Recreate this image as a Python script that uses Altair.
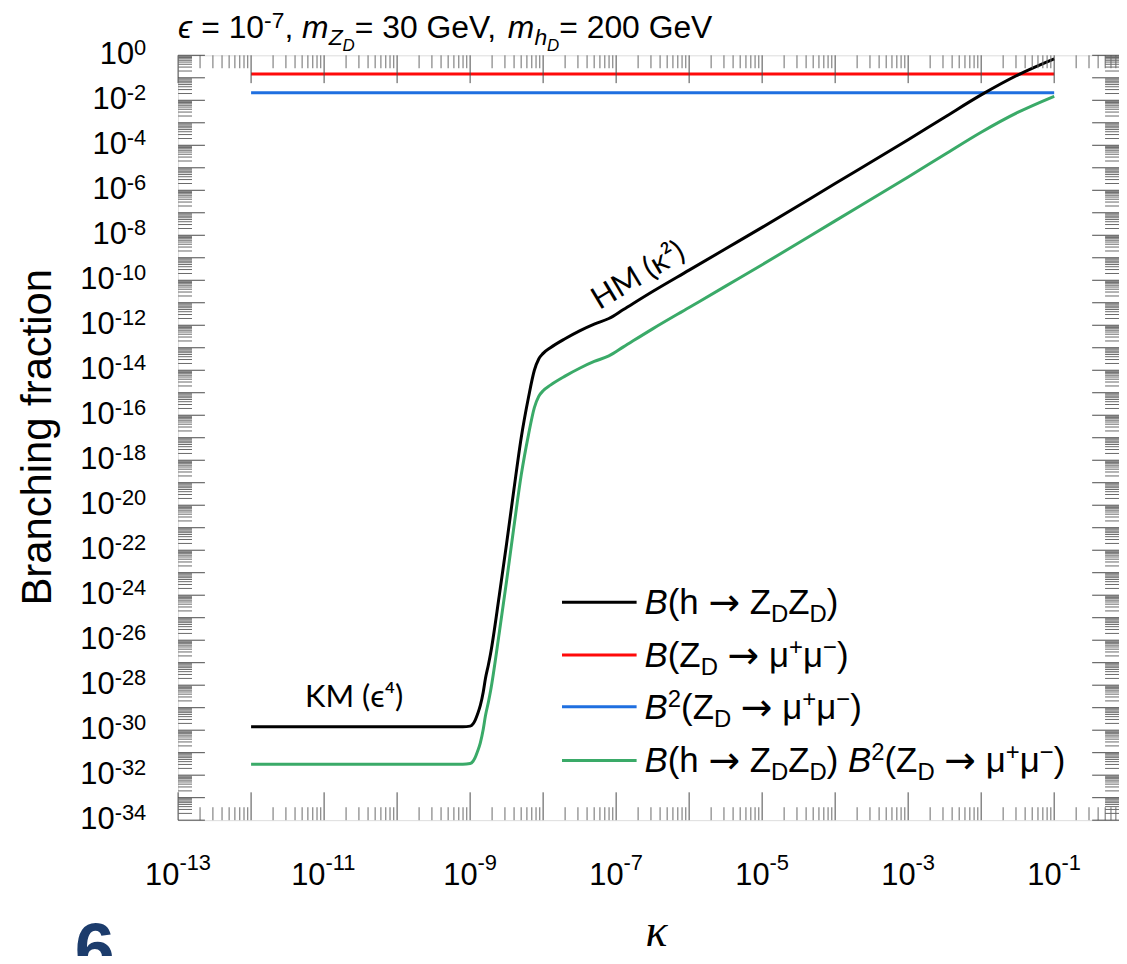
import altair as alt
import pandas as pd

# ---------------- data (log10 values) ----------------
kappa_exp = [-12.0, -11.0, -10.0, -9.5, -9.1, -9.0, -8.96, -8.93, -8.9, -8.86,
             -8.82, -8.79, -8.75, -8.72, -8.6, -8.5, -8.4, -8.3, -8.2, -8.12,
             -8.06, -8.0, -7.9, -7.7, -7.5, -7.3, -7.1, -6.9, -6.5, -6.0,
             -5.5, -5.0, -4.0, -3.0, -2.5, -2.0, -1.5, -1.0]
br_h_zdzd_exp = [-29.85, -29.85, -29.85, -29.85, -29.85, -29.82, -29.72, -29.55, -29.3, -28.9,
                 -28.3, -27.7, -27.1, -26.6, -24.0, -21.7, -19.3, -17.0, -15.2, -14.0,
                 -13.5, -13.25, -13.0, -12.6, -12.25, -11.95, -11.7, -11.3, -10.5, -9.55,
                 -8.6, -7.65, -5.7, -3.75, -2.75, -1.76, -0.88, -0.16]
br_product_exp = [-31.51, -31.51, -31.51, -31.51, -31.51, -31.48, -31.38, -31.21, -30.96, -30.56,
                  -29.96, -29.36, -28.76, -28.26, -25.66, -23.36, -20.96, -18.66, -16.86, -15.66,
                  -15.16, -14.91, -14.66, -14.26, -13.91, -13.61, -13.36, -12.96, -12.16, -11.21,
                  -10.26, -9.31, -7.36, -5.41, -4.41, -3.42, -2.54, -1.82]
flat_kappa = [1e-12, 1e-1]
br_zd_mumu = [0.148, 0.148]
br2_zd_mumu = [0.0219, 0.0219]

x_label_exps = [-13, -11, -9, -7, -5, -3, -1]
y_label_exps = [0, -2, -4, -6, -8, -10, -12, -14, -16, -18, -20, -22, -24, -26,
                -28, -30, -32, -34]

# ---------------- layout / style ----------------
FONT = "Liberation Sans"
ARROW_FONT = "DejaVu Sans"
W, H = 946, 769
X_MAX_EXP = -0.112
xscale = alt.Scale(type="log", domain=[1e-13, 10 ** X_MAX_EXP], nice=False)
yscale = alt.Scale(type="log", domain=[1e-34, 1.0], nice=False)

one = pd.DataFrame({"d": [0]})

AW = {" ": .278, "(": .333, ")": .333, "+": .584, ",": .278, "-": .333, "=": .584,
      "B": .667, "D": .722, "G": .778, "V": .667, "Z": .611, "e": .556, "h": .556,
      "m": .833, "μ": .576, "−": .584, "→": .838, "ϵ": .45}


def twidth(s, fs):
    return sum(AW.get(c, .556) for c in s) * fs


def run(segs, x0, y0):
    """segs: (text, size, dy, italic[, font])"""
    out = []
    x = x0
    for seg in segs:
        text, fs, dy, italic = seg[:4]
        font = seg[4] if len(seg) > 4 else FONT
        core = text.strip(" ")
        if not core:
            x += len(text) * AW[" "] * fs
            continue
        lead = len(text) - len(text.lstrip(" "))
        trail = len(text) - len(text.rstrip(" "))
        x += lead * AW[" "] * fs
        out.append(alt.Chart(one).mark_text(
            text=core, fontSize=fs, font=font, color="black",
            fontStyle="italic" if italic else "normal",
            align="left", baseline="alphabetic").encode(
            x=alt.value(x), y=alt.value(y0 + dy)))
        x += twidth(core, fs)
        x += trail * AW[" "] * fs
    return out


layers = []

# ---------------- curves ----------------
def line_layer(xs, ys, color):
    df = pd.DataFrame({"kappa": xs, "bf": ys})
    return alt.Chart(df).mark_line(color=color, strokeWidth=3, interpolate="monotone").encode(
        x=alt.X("kappa:Q", scale=xscale, axis=None),
        y=alt.Y("bf:Q", scale=yscale, axis=None))


kappa = [10 ** e for e in kappa_exp]
layers.append(line_layer(flat_kappa, br_zd_mumu, "#ff0a0a"))
layers.append(line_layer(flat_kappa, br2_zd_mumu, "#1f6fe0"))
layers.append(line_layer(kappa, [10 ** e for e in br_product_exp], "#3aaa68"))
layers.append(line_layer(kappa, [10 ** e for e in br_h_zdzd_exp], "#000000"))

# ---------------- ticks (inward, all four sides) ----------------
x_major = [10.0 ** e for e in range(-13, 0)]
x_minor = [k * 10.0 ** e for e in range(-13, 0) for k in range(2, 10)
           if k * 10.0 ** e <= 10 ** X_MAX_EXP]
y_major = [10.0 ** e for e in range(-34, 1)]
y_minor = [k * 10.0 ** e for e in range(-34, 0) for k in range(2, 10)]


def xrules(vals, y, y2, color):
    return alt.Chart(pd.DataFrame({"v": vals})).mark_rule(color=color, strokeWidth=1).encode(
        x=alt.X("v:Q", scale=xscale, axis=None), y=alt.value(y), y2=alt.value(y2))


def yrules(vals, x, x2, color):
    return alt.Chart(pd.DataFrame({"v": vals})).mark_rule(color=color, strokeWidth=1).encode(
        y=alt.Y("v:Q", scale=yscale, axis=None), x=alt.value(x), x2=alt.value(x2))


MAJ, MIN = "#4a4a4a", "#6a6a6a"
layers += [
    xrules(x_major, H, H - 28, MAJ), xrules(x_minor, H, H - 13, MIN),
    xrules(x_major, 0, 28, MAJ), xrules(x_minor, 0, 13, MIN),
    yrules(y_major, 0, 27, MAJ), yrules(y_minor, 0, 14, MIN),
    yrules(y_major, W, W - 27, MAJ), yrules(y_minor, W, W - 14, MIN),
]

# ---------------- tick labels ----------------
LF, SF = 31, 22
ylab = pd.DataFrame({"v": [10.0 ** e for e in y_label_exps],
                     "exp": [str(e) for e in y_label_exps]})
layers.append(alt.Chart(ylab).mark_text(
    align="right", baseline="alphabetic", fontSize=SF, font=FONT, color="black").encode(
    y=alt.Y("v:Q", scale=yscale, axis=None), x=alt.value(-32), text="exp:N"))
for n, proto in ((1, "0"), (2, "-0"), (3, "-00")):
    wsup = twidth(proto, SF)
    layers.append(alt.Chart(ylab).transform_filter(f"length(datum.exp) == {n}").mark_text(
        text="10", align="right", baseline="middle", fontSize=LF, font=FONT, color="black").encode(
        y=alt.Y("v:Q", scale=yscale, axis=None), x=alt.value(-32 - wsup)))

xlab = pd.DataFrame({"v": [10.0 ** e for e in x_label_exps],
                     "exp": [str(e) for e in x_label_exps]})
for n, proto in ((2, "-0"), (3, "-00")):
    wsup = twidth(proto, SF)
    d = twidth("10", LF) / 2 - wsup / 2
    layers.append(alt.Chart(xlab).transform_filter(f"length(datum.exp) == {n}").mark_text(
        text="10", align="right", baseline="alphabetic", dx=d, fontSize=LF, font=FONT,
        color="black").encode(
        x=alt.X("v:Q", scale=xscale, axis=None), y=alt.value(H + 65)))
    layers.append(alt.Chart(xlab).transform_filter(f"length(datum.exp) == {n}").mark_text(
        align="left", baseline="alphabetic", dx=d, fontSize=SF, font=FONT,
        color="black").encode(
        x=alt.X("v:Q", scale=xscale, axis=None), y=alt.value(H + 50), text="exp:N"))

# ---------------- axis titles ----------------
layers.append(alt.Chart(one).mark_text(
    text="Branching fraction", angle=270, fontSize=42, font=FONT, color="black",
    align="center", baseline="alphabetic").encode(x=alt.value(-128), y=alt.value(384)))
layers.append(alt.Chart(one).mark_text(
    text="κ", fontSize=46, font="Liberation Serif", fontStyle="italic", color="black",
    align="center", baseline="alphabetic").encode(x=alt.value(481), y=alt.value(896)))
layers.append(alt.Chart(one).mark_text(
    text="6", fontSize=72, font=FONT, fontWeight="bold", color="#1c3c6c",
    align="left", baseline="alphabetic").encode(x=alt.value(-104), y=alt.value(924)))

# ---------------- top title ----------------
TF, TS, TSS = 32, 23, 17
layers += run([
    ("ϵ", TF, 0, True), (" = 10", TF, 0, False), ("-7", TS, -10, False), (", ", TF, 0, False),
    ("m", TF, 0, True), ("Z", TS, 7, True), ("D", TSS, 13, True),
    ("= 30 GeV, ", TF, 0, False),
    ("m", TF, 0, True), ("h", TS, 7, True), ("D", TSS, 13, True),
    ("= 200 GeV", TF, 0, False)], 0, -17)

# ---------------- annotations ----------------
layers.append(alt.Chart(one).mark_text(
    text="KM (ϵ⁴)", fontSize=31, font="Lato", color="black",
    align="center", baseline="alphabetic").encode(x=alt.value(177), y=alt.value(655)))
layers.append(alt.Chart(one).mark_text(
    text="HM (κ²)", fontSize=31, font="Lato", color="black", angle=329,
    align="center", baseline="middle").encode(x=alt.value(463), y=alt.value(222)))

# ---------------- legend ----------------
F, S, AF = 35, 24, 38
leg_colors = ["#000000", "#ff0a0a", "#1f6fe0", "#3aaa68"]
leg_line_y = [550, 603, 655, 709]
AR = ("→", AF, 1, False, ARROW_FONT)
part_h = [("B", F, 0, True), ("(h ", F, 0, False), AR, (" Z", F, 0, False),
          ("D", S, 8, False), ("Z", F, 0, False), ("D", S, 8, False), (")", F, 0, False)]
part_mu = [("(Z", F, 0, False), ("D", S, 8, False), (" ", F, 0, False), AR,
           (" μ", F, 0, False), ("+", S, -12, False),
           ("μ", F, 0, False), ("−", S, -12, False), (")", F, 0, False)]
legend_rows = [
    part_h,
    [("B", F, 0, True)] + part_mu,
    [("B", F, 0, True), ("2", S, -12, False)] + part_mu,
    part_h + [(" ", F, 0, False), ("B", F, 0, True), ("2", S, -12, False)] + part_mu,
]
for col, ly, segs in zip(leg_colors, leg_line_y, legend_rows):
    layers.append(alt.Chart(one).mark_rule(color=col, strokeWidth=3).encode(
        x=alt.value(386), x2=alt.value(461), y=alt.value(ly)))
    layers += run(segs, 469, ly + 12)

chart = alt.layer(*layers).properties(
    width=W, height=H,
    autosize=alt.AutoSizeParams(type="none"),
    padding={"left": 171, "top": 45, "right": 0, "bottom": 134},
    background="white",
).configure_view(stroke="#8c8c8c", strokeWidth=1.5).configure(font=FONT)

chart.save("out.html", embed_options={"renderer": "svg", "actions": False})
